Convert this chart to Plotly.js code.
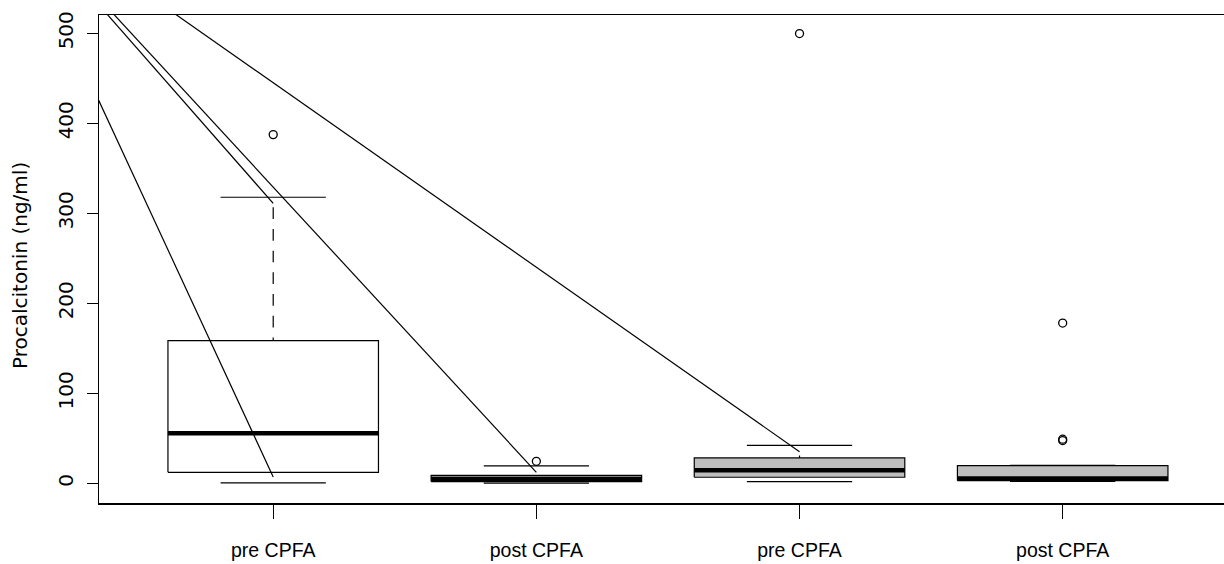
<!DOCTYPE html>
<html>
<head>
<meta charset="utf-8">
<script src="https://cdn.plot.ly/plotly-3.0.1.min.js"></script>
<style>html,body{margin:0;padding:0;background:#fff;overflow:hidden;}#chart{width:1224px;height:564px;}</style>
</head>
<body>
<div id="chart"></div>
<script>
// ---- data ----
const categories = ['pre CPFA', 'post CPFA', 'pre CPFA', 'post CPFA'];
const positions = [1, 2, 3, 4];
const lowerWhisker = [0.4, 0.2, 1.9, 2.2];
const q1 = [12.2, 1.9, 6.7, 3.0];
const median = [55.6, 5.0, 14.4, 5.2];
const q3 = [158.4, 8.9, 28.2, 19.6];
const upperWhisker = [317.8, 19.3, 42.1, 19.8];
const outliers = [[387.4], [24.4], [499.7], [178.0, 49.0, 47.5]];
// connecting lines (start / end points)
const lineStartX = [0, 0, 0, 0];
const lineStartY = [638, 644, 646, 650];
const lineEndX = [1, 1, 2, 3];
const lineEndY = [7.1, 311, 12.2, 35.1];
const yTicks = [0, 100, 200, 300, 400, 500];

// ---- styles ----
const fills = ['#ffffff', '#ffffff', '#bebebe', '#bebebe'];
const boxHalf = 0.4, capHalf = 0.2;
const LW = 1.2;

const traces = [];
positions.forEach((p, i) => {
  // box
  traces.push({
    type: 'scatter', mode: 'lines', hoverinfo: 'skip', showlegend: false,
    x: [p - boxHalf, p + boxHalf, p + boxHalf, p - boxHalf, p - boxHalf],
    y: [q1[i], q1[i], q3[i], q3[i], q1[i]],
    fill: 'toself', fillcolor: fills[i],
    line: {color: '#000', width: LW}
  });
  // median
  traces.push({
    type: 'scatter', mode: 'lines', hoverinfo: 'skip', showlegend: false,
    x: [p - boxHalf, p + boxHalf], y: [median[i], median[i]],
    line: {color: '#000', width: 4.5}
  });
  // whiskers (dashed, drawn from whisker end toward box)
  traces.push({
    type: 'scatter', mode: 'lines', hoverinfo: 'skip', showlegend: false,
    x: [p, p], y: [upperWhisker[i], q3[i]],
    line: {color: '#000', width: LW, dash: '0px,10px,11.7px,0px'}
  });
  traces.push({
    type: 'scatter', mode: 'lines', hoverinfo: 'skip', showlegend: false,
    x: [p, p], y: [lowerWhisker[i], q1[i]],
    line: {color: '#000', width: LW, dash: '0px,10px,11.7px,0px'}
  });
  // staples
  traces.push({
    type: 'scatter', mode: 'lines', hoverinfo: 'skip', showlegend: false,
    x: [p - capHalf, p + capHalf, null, p - capHalf, p + capHalf],
    y: [upperWhisker[i], upperWhisker[i], null, lowerWhisker[i], lowerWhisker[i]],
    line: {color: '#000', width: LW}
  });
  // outliers
  traces.push({
    type: 'scatter', mode: 'markers', hoverinfo: 'skip', showlegend: false,
    x: outliers[i].map(() => p), y: outliers[i],
    marker: {symbol: 'circle-open', size: 8, color: '#000', line: {width: 1.3, color: '#000'}}
  });
});
// connecting lines
lineStartX.forEach((sx, i) => {
  traces.push({
    type: 'scatter', mode: 'lines', hoverinfo: 'skip', showlegend: false,
    x: [sx, lineEndX[i]], y: [lineStartY[i], lineEndY[i]],
    line: {color: '#000', width: LW}
  });
});

const layout = {
  width: 1224, height: 564,
  margin: {l: 99, r: 0, t: 15, b: 61},
  paper_bgcolor: '#fff', plot_bgcolor: '#fff',
  showlegend: false,
  xaxis: {
    range: [0.338, 4.613], showgrid: false, zeroline: false,
    showline: true, mirror: true, linecolor: '#000', linewidth: 1.5,
    tickvals: positions, ticktext: categories,
    ticks: 'outside', ticklen: 14, tickwidth: 1.2, tickcolor: '#000',
    ticklabelstandoff: 15,
    tickfont: {family: 'Liberation Sans, Arial, sans-serif', size: 19.5, color: '#000'}
  },
  yaxis: {
    range: [-21.9, 520.3], showgrid: false, zeroline: false,
    showline: true, linecolor: '#000', linewidth: 1.5,
    tickvals: yTicks, ticktext: yTicks.map(String),
    ticks: 'outside', ticklen: 11, tickwidth: 1.2, tickcolor: '#000',
    tickangle: -90, ticklabelstandoff: 6,
    tickfont: {family: 'DejaVu Sans, sans-serif', size: 20, color: '#000'}
  },
  annotations: [{
    text: 'Procalcitonin (ng/ml)', xref: 'paper', yref: 'paper',
    x: (20 - 99) / 1125, y: (503 - 266) / 488, xanchor: 'center', yanchor: 'middle',
    textangle: -90, showarrow: false,
    font: {family: 'DejaVu Sans, sans-serif', size: 20, color: '#000'}
  }]
};

Plotly.newPlot('chart', traces, layout, {displayModeBar: false, staticPlot: true});
</script>
</body>
</html>
